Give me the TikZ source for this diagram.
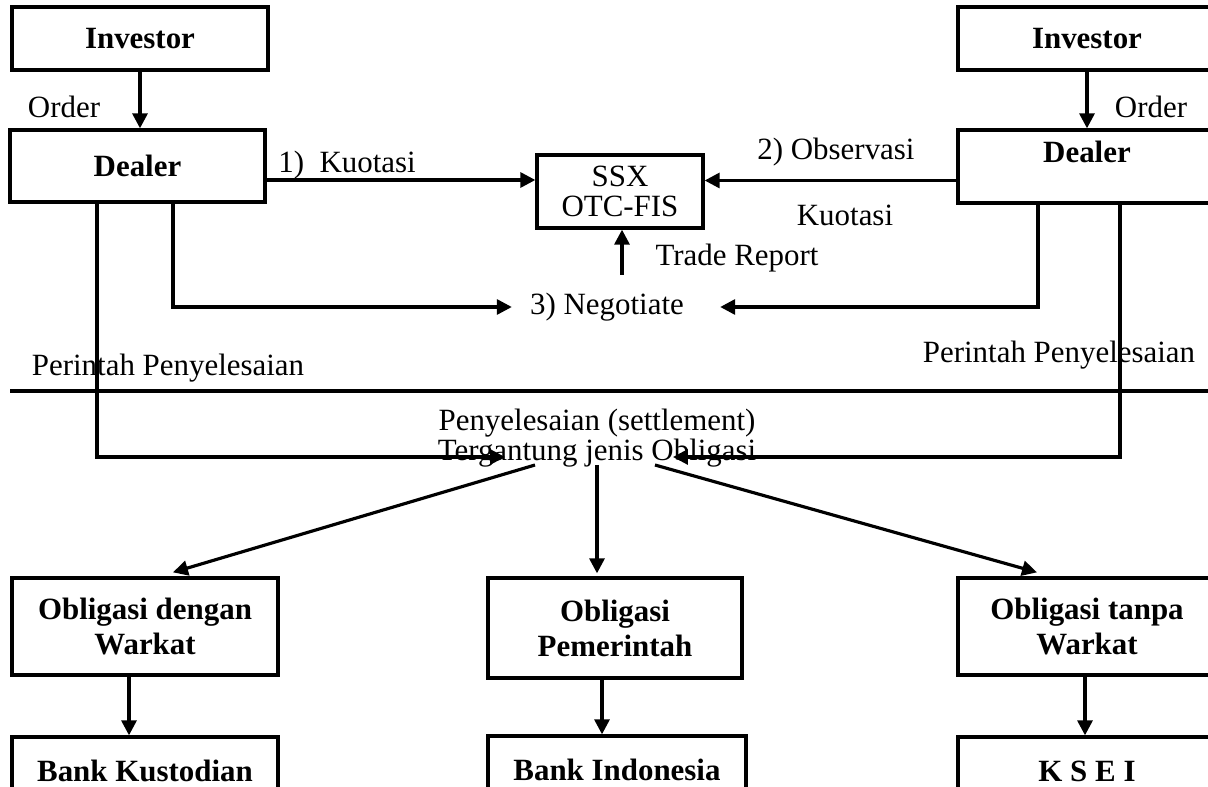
\documentclass[tikz,border=0pt]{standalone}
\usepackage{fontspec}
\setmainfont{Liberation Serif}
\usetikzlibrary{calc,shapes,arrows.meta}

\begin{document}
\begin{tikzpicture}[x=0.02cm,y=-0.02cm,
    txt/.style={font=\fontsize{17.6}{16}\selectfont, inner sep=0pt},
    box/.style={draw, line width=1.9pt, align=center, inner sep=0pt,
                font=\fontsize{17.6}{20}\selectfont\bfseries},
    arr/.style={line width=1.8pt, -{Triangle[length=8.5pt,width=8.5pt]}}]
  \useasboundingbox (0,0) rectangle (1208,787);
  \clip (0,0) rectangle (1208,787);

  %% Investors and dealers
  \node[box, minimum width=5.12cm, minimum height=1.26cm] (INVL) at (140,38.5) {Investor};
  \node[box, minimum width=5.16cm, minimum height=1.26cm] (INVR) at (1087,38.5) {Investor};
  \node[box, minimum width=5.10cm, minimum height=1.44cm] (DEALL) at (137.5,166) {Dealer};
  \node[box, minimum width=5.16cm, text height=0.65cm, text depth=0.81cm] (DEALR) at (1087,166.5) {Dealer};
  \node[box, font=\fontsize{17.6}{17.5}\selectfont, minimum width=3.32cm, minimum height=1.46cm] (SSX) at (620,191.5) {SSX\\OTC-FIS};

  \draw[arr] (INVL.south) -- (INVL.south |- DEALL.north);
  \draw[arr] (INVR.south) -- (INVR.south |- DEALR.north);
  \node[txt] (ORDL) at (64,107) {Order};
  \node[txt] (ORDR) at (1151,107) {Order};

  %% Quotations to SSX
  \draw[arr] ([yshift=-0.28cm]DEALL.east) -- ([yshift=-0.28cm]DEALL.east -| SSX.west);
  \draw[arr] ([yshift=-0.28cm]DEALR.west) -- ([yshift=-0.28cm]DEALR.west -| SSX.east);
  \node[txt] (KUO1) at (347,165) {1)\ \ Kuotasi};
  \node[txt] (OBS) at (836,152) {2) Observasi};
  \node[txt] (KUO2) at (845,215) {Kuotasi};

  %% Negotiation and trade report
  \node[txt, inner xsep=0.36cm] (NEGO) at (607,307) {3) Negotiate};
  \coordinate (TR) at (622,275);
  \draw[arr] (TR) -- (TR |- SSX.south);
  \node[txt] (TRADE) at (737,258) {Trade Report};
  \draw[arr] ([xshift=0.71cm]DEALL.south) |- (NEGO.west);
  \draw[arr] ([xshift=-0.98cm]DEALR.south) |- ([xshift=0.36cm]NEGO.east);

  %% Settlement orders
  \node[txt] (PERL) at (168,368) {Perintah Penyelesaian};
  \node[txt] (PERR) at (1059,355) {Perintah Penyelesaian};
  \draw[line width=2.8pt] (10,391) -- (1208,391);
  \node[txt, align=center] (SETTLE) at (597,438) {Penyelesaian (settlement)\\Tergantung jenis Obligasi};
  \draw[arr] ([xshift=-0.81cm]DEALL.south) |- ($(SETTLE)+(-92,19)$);
  \draw[arr] ([xshift=0.66cm]DEALR.south) |- ($(SETTLE)+(76,19)$);

  %% Kinds of bonds
  \node[box, minimum width=5.32cm, minimum height=1.94cm] (OBL) at (145,626.5) {Obligasi dengan\\Warkat};
  \node[box, minimum width=5.08cm, minimum height=2.00cm] (OBC) at (615,628) {Obligasi\\Pemerintah};
  \node[box, minimum width=5.16cm, minimum height=1.94cm] (OBR) at (1087,626.5) {Obligasi tanpa\\Warkat};
  \draw[arr] ($(SETTLE)+(-62,27)$) -- ($(OBL.north)+(28,-4)$);
  \draw[arr] ($(SETTLE)+(0,27)$) -- ($(OBC.north)+(-18,-3)$);
  \draw[arr] ($(SETTLE)+(58,27)$) -- ($(OBR.north)+(-50,-4)$);

  %% Custodians
  \node[box, minimum width=5.32cm, minimum height=1.36cm] (BANKK) at (145,771) {Bank Kustodian};
  \node[box, minimum width=5.16cm, minimum height=1.36cm] (BANKI) at (617,770) {Bank Indonesia};
  \node[box, minimum width=5.16cm, minimum height=1.36cm] (KSEI) at (1087,771) {K S E I};
  \draw[arr] ([xshift=-0.32cm]OBL.south) -- ([xshift=-0.32cm]OBL.south |- BANKK.north);
  \draw[arr] ([xshift=-0.26cm]OBC.south) -- ([xshift=-0.26cm]OBC.south |- BANKI.north);
  \draw[arr] ([xshift=-0.04cm]OBR.south) -- ([xshift=-0.04cm]OBR.south |- KSEI.north);
\end{tikzpicture}
\end{document}
